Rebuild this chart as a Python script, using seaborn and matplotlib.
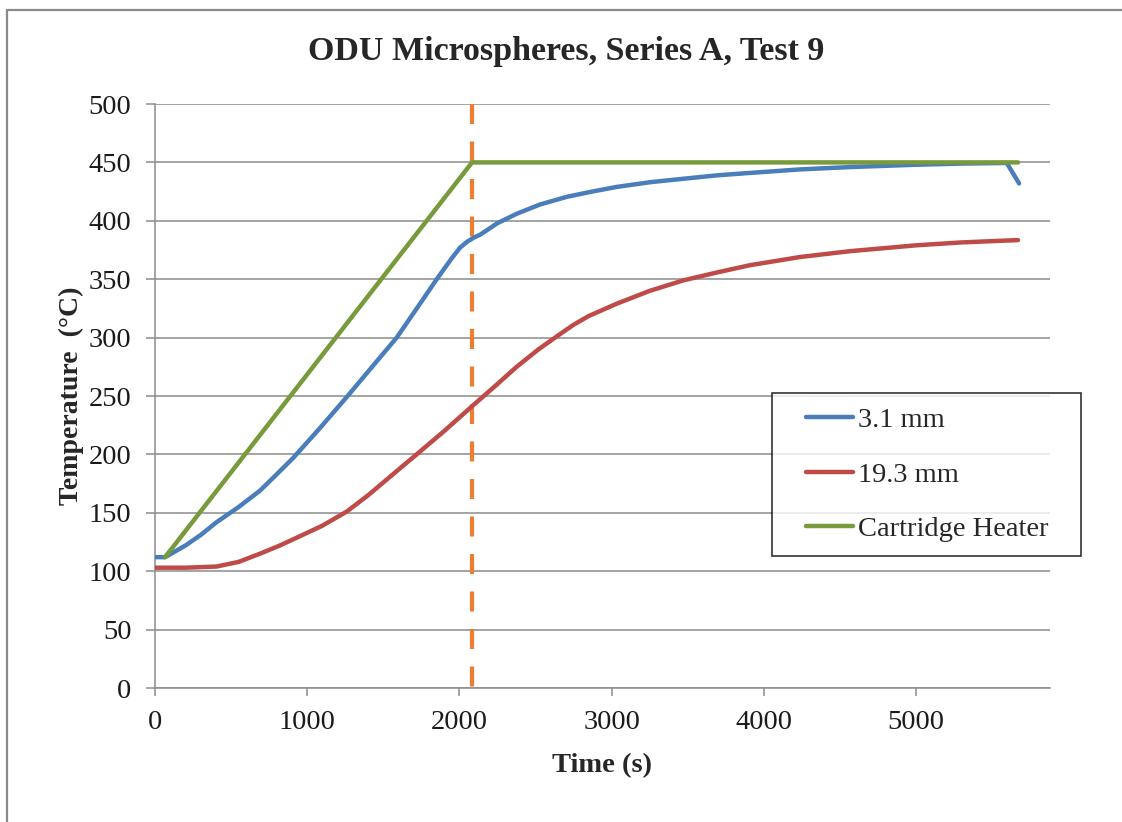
import matplotlib
matplotlib.use("Agg")
import matplotlib.pyplot as plt
from matplotlib.lines import Line2D
from matplotlib.legend_handler import HandlerLine2D
import numpy as np
import pandas as pd
import seaborn as sns

# Thermocouple readings, time in seconds and temperature in degrees C
t_3mm = [0, 66, 200, 300, 405, 550, 690, 800, 908, 1080, 1259, 1420, 1588,
         1720, 1851, 1950, 2004, 2050, 2100, 2135, 2250, 2376, 2530, 2705,
         2870, 3033, 3250, 3471, 3700, 3909, 4238, 4566, 5000, 5300, 5596, 5677]
T_3mm = [112, 112, 122, 131, 142, 155, 169, 183, 197, 222, 249, 274, 300,
         325, 350, 368, 377, 382, 386, 388, 398, 406, 414, 420.5,
         425, 429, 433, 436, 439, 441, 444, 446, 448, 449, 449.5, 432]

t_19mm = [0, 200, 405, 550, 690, 820, 953, 1100, 1259, 1400, 1500, 1600, 1719,
          1900, 2081, 2230, 2376, 2520, 2661, 2750, 2850, 3033, 3250, 3471,
          3700, 3909, 4238, 4566, 5000, 5300, 5670]
T_19mm = [103, 103, 104, 108, 115, 122, 130, 139, 151, 165, 176, 187, 200,
          220, 241, 258, 275, 290, 303, 311, 318.5, 329, 340, 349,
          356, 362, 369, 374, 379, 381.5, 383.5]

t_heater = [66, 2083, 5670]
T_heater = [112, 450, 450]

series_names = ["3.1 mm", "19.3 mm", "Cartridge Heater"]
series_colors = ["#4A7EBB", "#BE4B48", "#779A3A"]

ramp_end = 2083
y_ticks = [0, 50, 100, 150, 200, 250, 300, 350, 400, 450, 500]
x_ticks = [0, 1000, 2000, 3000, 4000, 5000]

df = pd.concat([
    pd.DataFrame({"Time": t_3mm, "Temp": T_3mm, "Sensor": series_names[0]}),
    pd.DataFrame({"Time": t_19mm, "Temp": T_19mm, "Sensor": series_names[1]}),
    pd.DataFrame({"Time": t_heater, "Temp": T_heater, "Sensor": series_names[2]}),
], ignore_index=True)

sns.set_theme(style="white")
plt.rcParams["font.family"] = ["Liberation Serif", "DejaVu Serif"]


class InsetLine(HandlerLine2D):
    """Legend line drawn over the right part of the handle box only."""
    def create_artists(self, legend, orig_handle, xdescent, ydescent,
                       width, height, fontsize, trans):
        arts = super().create_artists(legend, orig_handle, xdescent, ydescent,
                                      width, height, fontsize, trans)
        x = np.asarray(arts[0].get_xdata(), dtype=float)
        x0, x1 = x[0], x[-1]
        arts[0].set_xdata(np.linspace(x0 + 0.29 * (x1 - x0), x1, len(x)))
        return arts


fig = plt.figure(figsize=(11.22, 8.22), dpi=100)
ax = fig.add_axes([155 / 1122, 1 - 688 / 822, (1050 - 155) / 1122, (688 - 104) / 822])

grid_c = "#8C8C8C"
for yv in y_ticks:
    ax.axhline(yv, color=grid_c, lw=1.1, zorder=0)

# End of the heater ramp, dashes start at the top of the plot
ax.plot([ramp_end, ramp_end], [y_ticks[-1], y_ticks[0]], color="#ED7D31",
        lw=3.0, dashes=(4.8, 4.2), zorder=1)

sns.lineplot(data=df, x="Time", y="Temp", hue="Sensor", hue_order=series_names,
             palette=series_colors, lw=3.2, sort=False, estimator=None,
             ax=ax, zorder=3)

ax.set_xlim(0, 5880)
ax.set_ylim(0, 500)
ax.set_xticks(x_ticks)
ax.set_yticks(y_ticks)
for s in ["top", "right"]:
    ax.spines[s].set_visible(False)
ax.spines["left"].set_color(grid_c)
ax.spines["left"].set_linewidth(1.1)
ax.spines["bottom"].set_color(grid_c)
ax.spines["bottom"].set_linewidth(1.1)
ax.tick_params(axis="both", which="both", direction="out", width=1.1,
               color=grid_c, labelsize=20.5, labelcolor="#1A1A1A",
               left=True, bottom=True)
ax.tick_params(axis="y", length=6.5, pad=10.5)
ax.tick_params(axis="x", length=6, pad=10)

ax.set_xlabel("Time (s)", fontsize=20.5, fontweight="bold", labelpad=13)
ax.set_ylabel("Temperature  (°C)", fontsize=20, fontweight="bold", labelpad=3)

fig.suptitle("ODU Microspheres, Series A, Test 9", x=0.505, y=0.956,
             fontsize=24.5, fontweight="bold")

bx0 = (772 - 155) / 895
bw = (1081 - 772) / 895
btop = (688 - 393) / 584
bh = (555 - 393) / 584
leg = ax.legend(loc="upper left", bbox_to_anchor=(bx0, btop - bh, bw, bh),
                mode="expand", frameon=True, fancybox=False, fontsize=20.5,
                handlelength=2.35, handletextpad=0.18, labelspacing=1.0,
                borderpad=0.5, borderaxespad=0,
                handler_map={Line2D: InsetLine()})
leg.get_frame().set_edgecolor("#000000")
leg.get_frame().set_linewidth(1.2)
for h in leg.get_lines():
    h.set_linewidth(3.2)

# Outer chart-area border
fig.add_artist(Line2D([7 / 1122, 7 / 1122], [0, 1 - 10 / 822], transform=fig.transFigure,
                      color="#8A8A8A", lw=1.6))
fig.add_artist(Line2D([7 / 1122, 1], [1 - 10 / 822, 1 - 10 / 822], transform=fig.transFigure,
                      color="#8A8A8A", lw=1.6))

fig.savefig("out.png", dpi=100)
